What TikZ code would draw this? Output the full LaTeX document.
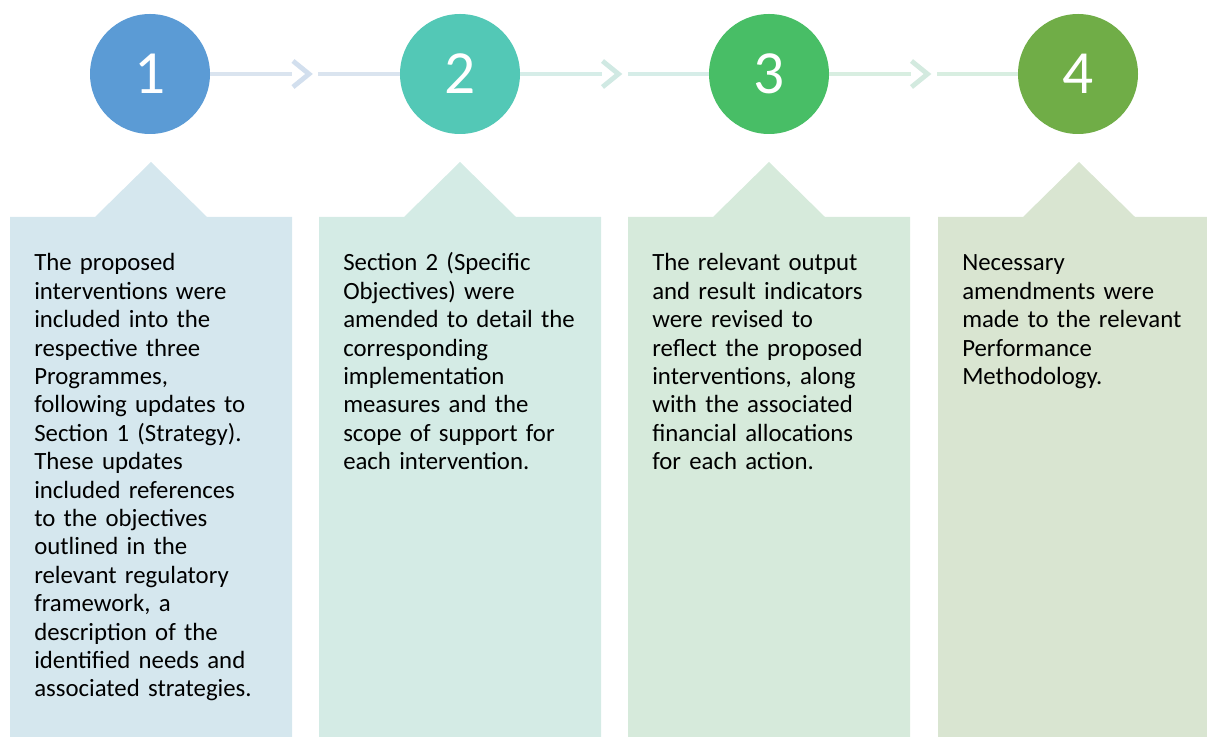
\documentclass[tikz,border=0pt]{standalone}
\usepackage{fontspec}
\setmainfont{Carlito}
\usetikzlibrary{calc}
\definecolor{stepA}{HTML}{5B9BD5}
\definecolor{stepB}{HTML}{53C8B6}
\definecolor{stepC}{HTML}{48BE66}
\definecolor{stepD}{HTML}{70AD47}
\definecolor{panelA}{HTML}{D5E7EE}
\definecolor{panelB}{HTML}{D4EBE5}
\definecolor{panelC}{HTML}{D6EADB}
\definecolor{panelD}{HTML}{D9E5D1}
\definecolor{linkA}{HTML}{DAE4EF}
\definecolor{linkB}{HTML}{D6EDE8}
\definecolor{linkC}{HTML}{D8EEE1}
\definecolor{chevA}{HTML}{D2DFEE}
\definecolor{chevB}{HTML}{D0E9E3}
\definecolor{chevC}{HTML}{D3EADF}
\tikzset{
  numcirc/.style={circle,minimum size=90pt,inner sep=0pt,text=white,
    font=\fontsize{46}{46}\selectfont},
  link/.style={line width=3pt},
  gapnode/.style={fill=white,minimum width=19.5pt,minimum height=26pt,inner sep=0pt},
  chev/.style={line width=3.6pt,miter limit=10},
  boxtext/.style={anchor=base west,inner sep=0pt,text width=200pt,align=left,
    font=\fontsize{18.6}{21.3}\selectfont}
}
\begin{document}
\begin{tikzpicture}[x=0.75pt,y=-0.75pt]
\def	\cy	{74};
\def	\bt	{217};
\def	\tip	{162};
\def	\hw	{56};
\def	\by	{737};
\useasboundingbox (0,0) rectangle (1207,737);
% panels
\fill[panelA] (10,\by)--(10,\bt)--(151-\hw,\bt)--(151,\tip)--(151+\hw,\bt)--(292,\bt)--(292,\by)--cycle;
\fill[panelB] (319,\by)--(319,\bt)--(460-\hw,\bt)--(460,\tip)--(460+\hw,\bt)--(601,\bt)--(601,\by)--cycle;
\fill[panelC] (628,\by)--(628,\bt)--(769-\hw,\bt)--(769,\tip)--(769+\hw,\bt)--(910,\bt)--(910,\by)--cycle;
\fill[panelD] (938,\by)--(938,\bt)--(1079-\hw,\bt)--(1079,\tip)--(1079+\hw,\bt)--(1207,\bt)--(1207,\by)--cycle;
% steps
\node[numcirc,fill=stepA] (c1) at (150,\cy) {1};
\node[numcirc,fill=stepB] (c2) at (460,\cy) {2};
\node[numcirc,fill=stepC] (c3) at (769,\cy) {3};
\node[numcirc,fill=stepD] (c4) at (1078,\cy) {4};
\draw[link,linkA] (c1) -- (c2) node[gapnode,midway] (g12) {};
\draw[link,linkB] (c2) -- (c3) node[gapnode,midway] (g23) {};
\draw[link,linkC] (c3) -- (c4) node[gapnode,midway] (g34) {};
\draw[chev,chevA] ($(g12.west)+(3,-13)$) -- ($(g12.west)+(19,0)$) -- ($(g12.west)+(3,13)$);
\draw[chev,chevB] ($(g23.west)+(3,-13)$) -- ($(g23.west)+(19,0)$) -- ($(g23.west)+(3,13)$);
\draw[chev,chevC] ($(g34.west)+(3,-13)$) -- ($(g34.west)+(19,0)$) -- ($(g34.west)+(3,13)$);
% texts
\node[boxtext] (t1) at (34,271) {The proposed\\interventions were\\included into the\\respective three\\Programmes,\\following updates to\\Section 1 (Strategy).\\These updates\\included references\\to the objectives\\outlined in the\\relevant regulatory\\framework, a\\description of the\\identified needs and\\associated strategies.};
\node[boxtext] (t2) at (343,271) {Section 2 (Specific\\Objectives) were\\amended to detail the\\corresponding\\implementation\\measures and the\\scope of support for\\each intervention.};
\node[boxtext] (t3) at (652,271) {The relevant output\\and result indicators\\were revised to\\reflect the proposed\\interventions, along\\with the associated\\financial allocations\\for each action.};
\node[boxtext] (t4) at (962,271) {Necessary\\amendments were\\made to the relevant\\Performance\\Methodology.};
\end{tikzpicture}
\end{document}
